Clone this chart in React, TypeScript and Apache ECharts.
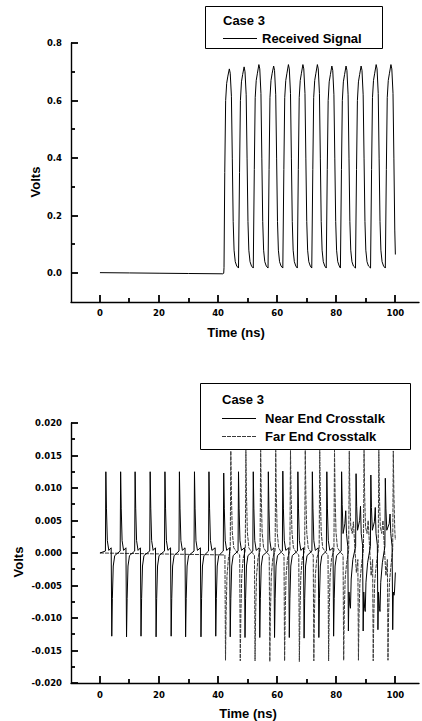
import React, { useEffect, useRef } from "react";
import * as echarts from "echarts";

// ---------- data ----------
const xMajorTicks = [0, 20, 40, 60, 80, 100];
const xMinorTicks = [10, 30, 50, 70, 90];
const topYMajorTicks = [0, 0.2, 0.4, 0.6, 0.8];
const topYMinorTicks = [0.1, 0.3, 0.5, 0.7];
const bottomYMajorTicks = [-0.02, -0.015, -0.01, -0.005, 0, 0.005, 0.01, 0.015, 0.02];
const bottomYMinorTicks = [-0.0175, -0.0125, -0.0075, -0.0025, 0.0025, 0.0075, 0.0125, 0.0175];

const receivedSignal: [number, number][] = [
  [0, 0.002], [10, 0.001], [20, 0.0], [30, -0.001], [41.6, -0.002], [41.9, 0.0],
  [42.0, 0.02], [42.25, 0.35], [42.55, 0.6], [42.9, 0.66], [43.3, 0.685], [43.8, 0.71], [44.1, 0.695], [44.5, 0.615], [44.8, 0.4], [45.1, 0.18], [45.4, 0.08], [45.8, 0.04], [46.3, 0.025], [46.9, 0.018],
  [47.0, 0.02], [47.25, 0.35], [47.55, 0.6], [47.9, 0.665], [48.3, 0.69], [48.8, 0.717], [49.1, 0.7], [49.5, 0.62], [49.8, 0.4], [50.1, 0.18], [50.4, 0.08], [50.8, 0.04], [51.3, 0.025], [51.9, 0.018],
  [52.0, 0.02], [52.25, 0.36], [52.55, 0.61], [52.9, 0.67], [53.3, 0.695], [53.8, 0.725], [54.1, 0.71], [54.5, 0.625], [54.8, 0.4], [55.1, 0.18], [55.4, 0.08], [55.8, 0.04], [56.3, 0.025], [56.9, 0.018],
  [57.0, 0.02], [57.25, 0.36], [57.55, 0.61], [57.9, 0.67], [58.3, 0.695], [58.8, 0.72], [59.1, 0.705], [59.5, 0.62], [59.8, 0.4], [60.1, 0.18], [60.4, 0.08], [60.8, 0.04], [61.3, 0.025], [61.9, 0.018],
  [62.0, 0.02], [62.25, 0.36], [62.55, 0.61], [62.9, 0.67], [63.3, 0.695], [63.8, 0.725], [64.1, 0.71], [64.5, 0.625], [64.8, 0.4], [65.1, 0.18], [65.4, 0.08], [65.8, 0.04], [66.3, 0.025], [66.8, 0.018],
  [66.9, 0.02], [67.15, 0.36], [67.45, 0.61], [67.8, 0.67], [68.2, 0.695], [68.7, 0.725], [69.0, 0.71], [69.4, 0.625], [69.7, 0.4], [70.0, 0.18], [70.3, 0.08], [70.7, 0.04], [71.2, 0.025], [71.7, 0.018],
  [71.8, 0.02], [72.05, 0.36], [72.35, 0.61], [72.7, 0.67], [73.1, 0.695], [73.6, 0.725], [73.9, 0.71], [74.3, 0.625], [74.6, 0.4], [74.9, 0.18], [75.2, 0.08], [75.6, 0.04], [76.1, 0.025], [76.6, 0.018],
  [76.7, 0.02], [76.95, 0.36], [77.25, 0.6], [77.6, 0.665], [78.0, 0.69], [78.5, 0.72], [78.8, 0.705], [79.2, 0.62], [79.5, 0.4], [79.8, 0.18], [80.1, 0.08], [80.5, 0.04], [81.0, 0.025], [81.4, 0.018],
  [81.5, 0.02], [81.75, 0.36], [82.05, 0.6], [82.4, 0.665], [82.8, 0.69], [83.3, 0.72], [83.6, 0.705], [84.0, 0.62], [84.3, 0.4], [84.6, 0.18], [84.9, 0.08], [85.3, 0.04], [85.8, 0.025], [86.5, 0.018],
  [86.6, 0.02], [86.85, 0.36], [87.15, 0.6], [87.5, 0.665], [87.9, 0.69], [88.4, 0.72], [88.7, 0.705], [89.1, 0.62], [89.4, 0.4], [89.7, 0.18], [90.0, 0.08], [90.4, 0.04], [90.9, 0.025], [91.6, 0.018],
  [91.7, 0.02], [91.95, 0.36], [92.25, 0.61], [92.6, 0.67], [93.0, 0.695], [93.5, 0.725], [93.8, 0.71], [94.2, 0.625], [94.5, 0.4], [94.8, 0.18], [95.1, 0.08], [95.5, 0.04], [96.0, 0.025], [96.6, 0.018],
  [96.7, 0.02], [96.95, 0.36], [97.25, 0.61], [97.6, 0.67], [98.0, 0.695], [98.5, 0.725], [98.8, 0.71], [99.2, 0.625], [99.5, 0.4], [99.8, 0.15], [100.0, 0.065],
];

const nearEndCrosstalk: [number, number][] = [
  [0, 0], [1.85, 0.0003], [2.0, 0.0125], [2.2, 0.0069], [2.5, 0.0019], [3.0, 0.0004], [3.8, 0.0008], [4.0, -0.0128], [4.2, -0.007], [4.5, -0.002], [5.0, -0.0004],
  [6.85, 0.0003], [7.0, 0.0125], [7.2, 0.0069], [7.5, 0.0019], [8.0, 0.0004], [8.8, 0.0008], [9.0, -0.0129], [9.2, -0.007], [9.5, -0.002], [10.0, -0.0004],
  [11.75, 0.0003], [11.9, 0.0125], [12.1, 0.0069], [12.4, 0.0019], [12.9, 0.0004], [13.7, 0.0008], [13.9, -0.0128], [14.1, -0.007], [14.4, -0.002], [14.9, -0.0004],
  [16.85, 0.0003], [17.0, 0.0125], [17.2, 0.0069], [17.5, 0.0019], [18.0, 0.0004], [18.8, 0.0008], [19.0, -0.0129], [19.2, -0.007], [19.5, -0.002], [20.0, -0.0004],
  [21.85, 0.0003], [22.0, 0.0125], [22.2, 0.0069], [22.5, 0.0019], [23.0, 0.0004], [23.9, 0.0008], [24.1, -0.0128], [24.3, -0.007], [24.6, -0.002], [25.1, -0.0004],
  [26.75, 0.0003], [26.9, 0.0125], [27.1, 0.0069], [27.4, 0.0019], [27.9, 0.0004], [28.8, 0.0008], [29.0, -0.0129], [29.2, -0.007], [29.5, -0.002], [30.0, -0.0004],
  [31.85, 0.0003], [32.0, 0.0125], [32.2, 0.0069], [32.5, 0.0019], [33.0, 0.0004], [34.0, 0.0008], [34.2, -0.0129], [34.4, -0.007], [34.7, -0.002], [35.2, -0.0004],
  [36.75, 0.0003], [36.9, 0.0125], [37.1, 0.0069], [37.4, 0.0019], [37.9, 0.0004], [39.0, 0.0008], [39.2, -0.0128], [39.4, -0.007], [39.7, -0.002], [40.2, -0.0004],
  [41.75, 0.0003], [41.9, 0.0123], [42.1, 0.0068], [42.4, 0.0019], [42.9, 0.0004], [43.9, 0.0008], [44.1, -0.0129], [44.3, -0.007], [44.6, -0.002], [45.1, -0.0004],
  [46.75, 0.0003], [46.9, 0.0125], [47.1, 0.0069], [47.4, 0.0019], [47.9, 0.0004], [48.9, 0.0008], [49.1, -0.013], [49.3, -0.007], [49.6, -0.002], [50.1, -0.0004],
  [51.75, 0.0003], [51.9, 0.0125], [52.1, 0.0069], [52.4, 0.0019], [52.9, 0.0004], [53.9, 0.0008], [54.1, -0.013], [54.3, -0.007], [54.6, -0.002], [55.1, -0.0004],
  [56.85, 0.0003], [57.0, 0.0125], [57.2, 0.0069], [57.5, 0.0019], [58.0, 0.0004], [58.9, 0.0008], [59.1, -0.013], [59.3, -0.007], [59.6, -0.002], [60.1, -0.0004],
  [61.75, 0.0003], [61.9, 0.0126], [62.1, 0.0069], [62.4, 0.0019], [62.9, 0.0004], [63.9, 0.0008], [64.1, -0.013], [64.3, -0.007], [64.6, -0.002], [65.1, -0.0004],
  [66.85, 0.0003], [67.0, 0.0125], [67.2, 0.0069], [67.5, 0.0019], [68.0, 0.0004], [68.9, 0.0008], [69.1, -0.0131], [69.3, -0.007], [69.6, -0.002], [70.1, -0.0004],
  [71.75, 0.0003], [71.9, 0.0125], [72.1, 0.0069], [72.4, 0.0019], [72.9, 0.0004], [73.9, 0.0008], [74.1, -0.013], [74.3, -0.007], [74.6, -0.002], [75.1, -0.0004],
  [76.65, 0.0003], [76.8, 0.0125], [77.0, 0.0069], [77.3, 0.0019], [77.8, 0.0004], [78.9, 0.0008], [79.1, -0.0128], [79.3, -0.007], [79.6, -0.002], [80.1, -0.0004],
  [81.65, 0.0003], [81.8, 0.0125], [82.0, 0.0075], [82.3, 0.003], [82.9, 0.0045], [83.2, 0.0065], [83.45, 0.003], [83.9, 0.001], [84.1, -0.012], [84.3, -0.006], [84.6, -0.008], [84.8, -0.0085], [85.05, -0.004], [85.6, -0.001],
  [86.55, 0.001], [86.7, 0.0122], [86.9, 0.0072], [87.2, 0.0035], [87.9, 0.005], [88.2, 0.0072], [88.45, 0.003], [88.9, 0.0012], [89.1, -0.012], [89.3, -0.006], [89.6, -0.0085], [89.8, -0.009], [90.05, -0.0045], [90.6, -0.0015],
  [91.55, 0.001], [91.7, 0.012], [91.9, 0.007], [92.2, 0.0035], [92.9, 0.0048], [93.2, 0.007], [93.45, 0.003], [93.9, 0.0012], [94.1, -0.0118], [94.3, -0.006], [94.6, -0.0085], [94.8, -0.009], [95.05, -0.0045], [95.6, -0.0015],
  [96.45, 0.001], [96.6, 0.0115], [96.8, 0.0068], [97.1, 0.0035], [97.9, 0.0045], [98.2, 0.006], [98.45, 0.003], [98.9, 0.001], [99.1, -0.0118], [99.3, -0.006], [99.55, -0.0065], [99.7, -0.006], [100, -0.003],
];

const farEndCrosstalk: [number, number][] = [
  [0, 0], [42.3, -0.0003], [42.5, -0.0165], [42.7, -0.0095], [43.0, -0.0035], [43.5, -0.0008], [44.1, 0.0004], [44.3, 0.0157], [44.5, 0.009], [44.8, 0.0032], [45.3, 0.0008], [46.4, 0.0001],
  [47.3, -0.0003], [47.5, -0.0166], [47.7, -0.0095], [48.0, -0.0035], [48.5, -0.0008], [49.2, 0.0004], [49.4, 0.0158], [49.6, 0.009], [49.9, 0.0032], [50.4, 0.0008], [51.4, 0.0001],
  [52.3, -0.0003], [52.5, -0.0166], [52.7, -0.0095], [53.0, -0.0035], [53.5, -0.0008], [54.2, 0.0004], [54.4, 0.0158], [54.6, 0.009], [54.9, 0.0032], [55.4, 0.0008], [56.4, 0.0001],
  [57.3, -0.0003], [57.5, -0.0167], [57.7, -0.0095], [58.0, -0.0035], [58.5, -0.0008], [59.3, 0.0004], [59.5, 0.0158], [59.7, 0.009], [60.0, 0.0032], [60.5, 0.0008], [61.4, 0.0001],
  [62.3, -0.0003], [62.5, -0.0166], [62.7, -0.0095], [63.0, -0.0035], [63.5, -0.0008], [64.3, 0.0004], [64.5, 0.0158], [64.7, 0.009], [65.0, 0.0032], [65.5, 0.0008], [66.4, 0.0001],
  [67.3, -0.0003], [67.5, -0.0167], [67.7, -0.0095], [68.0, -0.0035], [68.5, -0.0008], [69.3, 0.0004], [69.5, 0.0158], [69.7, 0.009], [70.0, 0.0032], [70.5, 0.0008], [71.4, 0.0001],
  [72.2, -0.0003], [72.4, -0.0166], [72.6, -0.0095], [72.9, -0.0035], [73.4, -0.0008], [74.2, 0.0004], [74.4, 0.0158], [74.6, 0.009], [74.9, 0.0032], [75.4, 0.0008], [76.4, 0.0001],
  [77.2, -0.0003], [77.4, -0.0166], [77.6, -0.0095], [77.9, -0.0035], [78.4, -0.0008], [79.2, 0.0004], [79.4, 0.0158], [79.6, 0.009], [79.9, 0.0032], [80.4, 0.0008], [81.4, 0.0001],
  [82.3, -0.0003], [82.5, -0.0165], [82.7, -0.0095], [83.0, -0.004], [83.5, -0.0015], [84.2, 0.0004], [84.4, 0.0157], [84.6, 0.009], [84.9, 0.004], [85.4, 0.003], [85.8, 0.0048], [86.2, 0.0015], [86.8, -0.003], [87.3, -0.001],
  [87.5, -0.0165], [87.7, -0.0095], [88.0, -0.0045], [88.5, -0.002], [89.2, 0.0006], [89.4, 0.0158], [89.6, 0.009], [89.9, 0.004], [90.4, 0.003], [90.8, 0.005], [91.2, 0.0015], [91.8, -0.0035], [92.3, -0.001],
  [92.5, -0.0166], [92.7, -0.0095], [93.0, -0.0045], [93.5, -0.002], [94.2, 0.0006], [94.4, 0.0158], [94.6, 0.009], [94.9, 0.004], [95.4, 0.003], [95.8, 0.005], [96.2, 0.0015], [96.8, -0.0035], [97.3, -0.001],
  [97.5, -0.0165], [97.7, -0.0095], [98.0, -0.0045], [98.5, -0.002], [99.1, 0.0006], [99.3, 0.0157], [99.5, 0.009], [99.8, 0.0035], [100, 0.002],
];

const legendTitle = "Case 3";
const seriesNames = ["Received Signal", "Near End Crosstalk", "Far End Crosstalk"];
const xAxisTitle = "Time (ns)";
const yAxisTitle = "Volts";

// ---------- styling ----------
const TICK_FONT = "DejaVu Sans";
const TITLE_FONT = "Liberation Sans";
const X_MIN = -9.8;
const X_MAX = 108;
const TOP_Y_MIN = -0.1;
const TOP_Y_MAX = 0.8;
const BOT_Y_MIN = -0.02;
const BOT_Y_MAX = 0.02;
const BLACK = "#000";

const tickLabel = { color: BLACK, fontFamily: TICK_FONT, fontWeight: "bold", fontSize: 8.5 };
const axisLine = { show: true, onZero: false, lineStyle: { color: BLACK, width: 1.4 } };

export default function App() {
  const ref = useRef<HTMLDivElement>(null);
  useEffect(() => {
    document.body.style.margin = "0";
    if (!ref.current) return;
    const chart = echarts.init(ref.current, undefined, { renderer: "svg" });
    const titleStyle = { fontFamily: TITLE_FONT, fontWeight: "bold", fontSize: 13, fill: BLACK };

    chart.setOption({
      animation: false,
      backgroundColor: "#fff",
      grid: [
        { left: 71, top: 43, width: 348, height: 259 },
        { left: 71, top: 423, width: 348, height: 260 },
      ],
      xAxis: [
        { type: "value", gridIndex: 0, min: X_MIN, max: X_MAX, axisLine, axisTick: { show: false }, axisLabel: { customValues: xMajorTicks, margin: 6, ...tickLabel }, splitLine: { show: false } },
        { type: "value", gridIndex: 1, min: X_MIN, max: X_MAX, axisLine, axisTick: { show: false }, axisLabel: { customValues: xMajorTicks, margin: 7, ...tickLabel }, splitLine: { show: false } },
      ],
      yAxis: [
        { type: "value", gridIndex: 0, min: TOP_Y_MIN, max: TOP_Y_MAX, axisLine, axisTick: { show: false }, axisLabel: { customValues: topYMajorTicks, margin: 9, formatter: (v: number) => v.toFixed(1), ...tickLabel }, splitLine: { show: false } },
        { type: "value", gridIndex: 1, min: BOT_Y_MIN, max: BOT_Y_MAX, interval: 0.005, axisLine, axisTick: { show: false }, axisLabel: { margin: 9, formatter: (v: number) => v.toFixed(3), ...tickLabel }, splitLine: { show: false } },
      ],
      series: [
        {
          name: seriesNames[0], type: "line", xAxisIndex: 0, yAxisIndex: 0, data: receivedSignal,
          showSymbol: false, symbol: "none", silent: true,
          lineStyle: { color: BLACK, width: 1 },
        },
        {
          name: seriesNames[2], type: "line", xAxisIndex: 1, yAxisIndex: 1, data: farEndCrosstalk,
          showSymbol: false, symbol: "none", silent: true,
          lineStyle: { color: "#3a3a3a", width: 1, type: [4, 1] },
        },
        {
          name: seriesNames[1], type: "line", xAxisIndex: 1, yAxisIndex: 1, data: nearEndCrosstalk,
          showSymbol: false, symbol: "none", silent: true,
          lineStyle: { color: BLACK, width: 1 },
        },
      ],
    });

    // tick marks positioned through the chart's own scales (convertToPixel)
    const ticks: any[] = [];
    const addX = (grid: number, values: number[], yEdge: number, len: number) => {
      values.forEach((v) => {
        const p = chart.convertToPixel({ gridIndex: grid }, [v, yEdge]) as number[];
        if (!p) return;
        const x = Math.round(p[0]);
        const y = Math.round(p[1]);
        ticks.push({ type: "line", z: 150, silent: true, shape: { x1: x, y1: y, x2: x, y2: y - len }, style: { stroke: BLACK, lineWidth: 1.8 } });
      });
    };
    const addY = (grid: number, values: number[], len: number) => {
      values.forEach((v) => {
        const p = chart.convertToPixel({ gridIndex: grid }, [X_MIN, v]) as number[];
        if (!p) return;
        const x = Math.round(p[0]);
        const y = Math.round(p[1]);
        ticks.push({ type: "line", z: 150, silent: true, shape: { x1: x, y1: y, x2: x + len, y2: y }, style: { stroke: BLACK, lineWidth: 1.8 } });
      });
    };
    addX(0, xMajorTicks, TOP_Y_MIN, 7);
    addX(0, xMinorTicks, TOP_Y_MIN, 4);
    addY(0, topYMajorTicks, 7);
    addY(0, topYMinorTicks, 4);
    addX(1, xMajorTicks, BOT_Y_MIN, 7);
    addX(1, xMinorTicks, BOT_Y_MIN, 4);
    addY(1, bottomYMajorTicks, 7);
    addY(1, bottomYMinorTicks, 4);

    chart.setOption({
      graphic: [
        // axis titles
        { type: "text", x: 35, y: 182, rotation: Math.PI / 2, style: { ...titleStyle, text: yAxisTitle, textAlign: "center", textVerticalAlign: "middle" } },
        { type: "text", x: 236, y: 332, style: { ...titleStyle, text: xAxisTitle, textAlign: "center", textVerticalAlign: "middle" } },
        { type: "text", x: 18, y: 562, rotation: Math.PI / 2, style: { ...titleStyle, text: yAxisTitle, textAlign: "center", textVerticalAlign: "middle" } },
        { type: "text", x: 248, y: 713, style: { ...titleStyle, text: xAxisTitle, textAlign: "center", textVerticalAlign: "middle" } },
        // top legend
        { type: "rect", z: 100, shape: { x: 205.5, y: 6.5, width: 177, height: 42 }, style: { fill: "#fff", stroke: BLACK, lineWidth: 1 } },
        { type: "text", z: 101, x: 223, y: 20, style: { ...titleStyle, text: legendTitle, textAlign: "left", textVerticalAlign: "middle" } },
        { type: "line", z: 101, shape: { x1: 223, y1: 38.5, x2: 257, y2: 38.5 }, style: { stroke: BLACK, lineWidth: 1 } },
        { type: "text", z: 101, x: 262, y: 38, style: { ...titleStyle, text: seriesNames[0], textAlign: "left", textVerticalAlign: "middle" } },
        // bottom legend
        { type: "rect", z: 100, shape: { x: 200.5, y: 383.5, width: 210, height: 66 }, style: { fill: "#fff", stroke: BLACK, lineWidth: 1 } },
        { type: "text", z: 101, x: 222, y: 399, style: { ...titleStyle, text: legendTitle, textAlign: "left", textVerticalAlign: "middle" } },
        { type: "line", z: 101, shape: { x1: 222, y1: 418.5, x2: 256, y2: 418.5 }, style: { stroke: BLACK, lineWidth: 1 } },
        { type: "text", z: 101, x: 265, y: 418, style: { ...titleStyle, text: seriesNames[1], textAlign: "left", textVerticalAlign: "middle" } },
        { type: "line", z: 101, shape: { x1: 222, y1: 436.5, x2: 256, y2: 436.5 }, style: { stroke: "#3a3a3a", lineWidth: 1, lineDash: [4, 1] } },
        { type: "text", z: 101, x: 265, y: 436, style: { ...titleStyle, text: seriesNames[2], textAlign: "left", textVerticalAlign: "middle" } },
        ...ticks,
      ],
    });
    return () => chart.dispose();
  }, []);
  return <div ref={ref} style={{ position: "absolute", left: 0, top: 0, width: 422, height: 721 }} />;
}
